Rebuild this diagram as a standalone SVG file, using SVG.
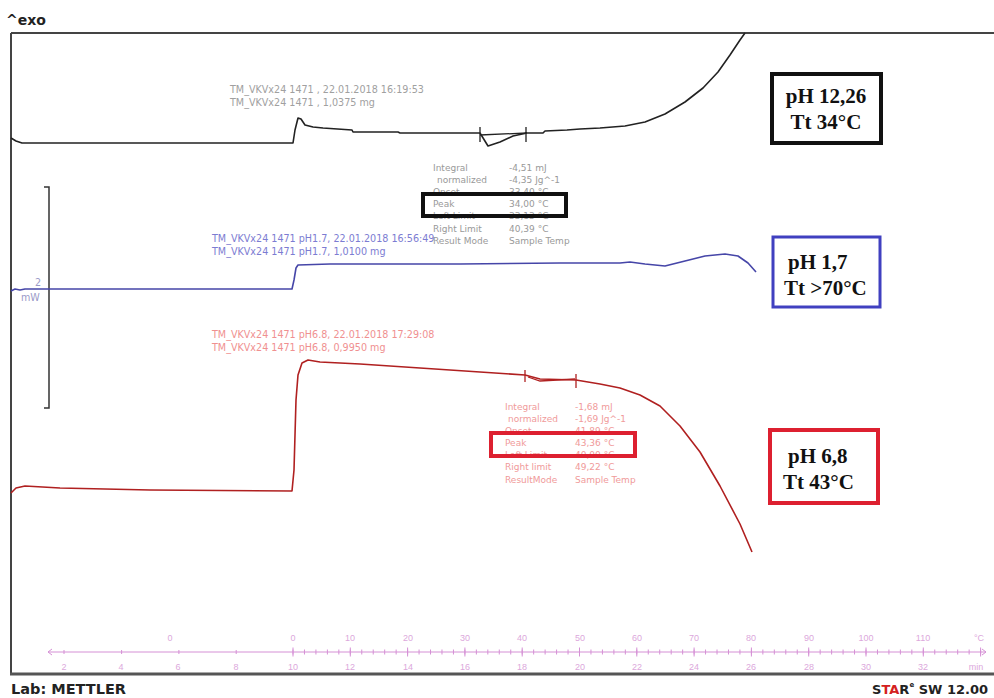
<svg xmlns="http://www.w3.org/2000/svg" width="994" height="698" viewBox="0 0 994 698">
<defs>
<style>
.frame{stroke:#444;fill:none}
.hdr{font-family:"DejaVu Sans",Verdana,sans-serif;font-size:9.6px}
.tbl{font-family:"DejaVu Sans",Verdana,sans-serif;font-size:9px}
.box{font-family:"Liberation Serif","Times New Roman",serif;font-weight:bold;font-size:21px;fill:#111}
.ax{font-family:"Liberation Sans",Arial,sans-serif;font-size:9px;fill:#dca8dc;text-anchor:middle}
.big{font-family:"DejaVu Sans",Verdana,sans-serif;font-weight:bold;fill:#222}
.curve{fill:none;stroke-width:1.6;stroke-linejoin:round}
</style>
</defs>
<rect width="994" height="698" fill="#fff"/>

<g id="frame">
<text class="big" x="6" y="25" font-size="14">^exo</text>
<line class="frame" x1="11" y1="33" x2="994" y2="33" stroke-width="2"/>
<line class="frame" x1="11" y1="33" x2="11" y2="674" stroke-width="2"/>
<line x1="10" y1="674" x2="994" y2="674" stroke="#555" stroke-width="3"/>
<text class="big" x="11" y="694" font-size="14.5">Lab: METTLER</text>
<text class="big" x="988" y="694" font-size="13" text-anchor="end"><tspan fill="#222">S</tspan><tspan fill="#d42020">TA</tspan><tspan fill="#222">R</tspan><tspan font-size="7" dy="-7">e</tspan><tspan dy="7"> SW 12.00</tspan></text>
</g>

<g id="scale">
<path d="M44,187 L49,187 L49,408 L44,408" fill="none" stroke="#333" stroke-width="1.5"/>
<text class="hdr" x="35" y="286" fill="#9a9ac8">2</text>
<text class="hdr" x="21" y="301" fill="#9a9ac8" font-size="8.5">mW</text>
</g>

<g id="curve-black">
<path class="curve" stroke="#222" d="M11,138 L16,141 L22,143 L293,143 L295,130 L298,118 L301,119 L305,125 L313,127 L323,128 L352,130 L353,132 L398,132 L400,133 L480,133 L488,146 L500,142 L513,136 L527,133 L543,133 L545,131 L567,130 L580,129 L600,128 L625,126 L645,122 L665,114 L685,102 L703,88 L718,72 L730,55 L740,40 L745,33"/>
<path d="M480,127 L480,142 M526,127 L526,142 M480,135 L527,133" stroke="#222" stroke-width="1.3" fill="none"/>
<text class="hdr" x="230" y="93" fill="#a0a0a0">TM_VKVx24 1471 , 22.01.2018 16:19:53</text>
<text class="hdr" x="230" y="106" fill="#a0a0a0">TM_VKVx24 1471 , 1,0375 mg</text>
</g>

<g id="table-black" class="tbl" fill="#999">
<text x="433" y="171">Integral</text><text x="509" y="171">-4,51 mJ</text>
<text x="437" y="183">normalized</text><text x="509" y="183">-4,35 Jg^-1</text>
<text x="433" y="195">Onset</text><text x="509" y="195">33,40 °C</text>
<text x="433" y="207">Peak</text><text x="509" y="207">34,00 °C</text>
<text x="433" y="219">Left Limit</text><text x="509" y="219">33,13 °C</text>
<text x="433" y="232">Right Limit</text><text x="509" y="232">40,39 °C</text>
<text x="433" y="244">Result Mode</text><text x="509" y="244">Sample Temp</text>
<rect x="423" y="194" width="143" height="22" fill="none" stroke="#111" stroke-width="4"/>
</g>

<g id="curve-blue">
<path class="curve" stroke="#4646a8" d="M11,291 L15,289 L20,290 L25,289 L292,289 L294,280 L296,268 L298,265 L330,264 L460,264 L560,263 L620,263 L630,262 L645,264 L665,266 L685,261 L705,256 L725,254 L738,256 L748,263 L756,272"/>
<text class="hdr" x="212" y="242" fill="#7c7cd2">TM_VKVx24 1471 pH1.7, 22.01.2018 16:56:49</text>
<text class="hdr" x="212" y="255" fill="#7c7cd2">TM_VKVx24 1471 pH1.7, 1,0100 mg</text>
</g>

<g id="curve-red">
<path class="curve" stroke="#b02020" d="M11,493 L16,488 L25,486 L60,488 L150,490 L292,491 L294,470 L296,400 L298,375 L302,363 L308,360 L320,362 L360,364 L420,368 L480,372 L525,375 L540,379 L576,380 L600,384 L620,388 L640,395 L660,406 L680,426 L700,452 L720,486 L740,524 L752,552"/>
<path d="M525,370 L525,382 M576,374 L576,388 M528,377 L540,381 L575,379" stroke="#b02020" stroke-width="1.3" fill="none"/>
<text class="hdr" x="212" y="338" fill="#f09090">TM_VKVx24 1471 pH6.8, 22.01.2018 17:29:08</text>
<text class="hdr" x="212" y="351" fill="#f09090">TM_VKVx24 1471 pH6.8, 0,9950 mg</text>
</g>

<g id="table-red" class="tbl" fill="#f09a9a">
<text x="505" y="410">Integral</text><text x="575" y="410">-1,68 mJ</text>
<text x="508" y="422">normalized</text><text x="575" y="422">-1,69 Jg^-1</text>
<text x="505" y="434">Onset</text><text x="575" y="434">41,89 °C</text>
<text x="505" y="446">Peak</text><text x="575" y="446">43,36 °C</text>
<text x="505" y="458">Left Limit</text><text x="575" y="458">40,00 °C</text>
<text x="505" y="470">Right limit</text><text x="575" y="470">49,22 °C</text>
<text x="505" y="483">ResultMode</text><text x="575" y="483">Sample Temp</text>
<rect x="491" y="433" width="144" height="23" fill="none" stroke="#dd2030" stroke-width="4"/>
</g>

<g id="label-black">
<rect x="772" y="74" width="109" height="69" fill="#fff" stroke="#111" stroke-width="4"/>
<text class="box" x="826" y="103" text-anchor="middle">pH 12,26</text>
<text class="box" x="826" y="129" text-anchor="middle">Tt 34°C</text>
</g>
<g id="label-blue">
<rect x="773" y="237" width="107" height="70" fill="#fff" stroke="#4040c0" stroke-width="3"/>
<text class="box" x="788" y="269">pH 1,7</text>
<text class="box" x="784" y="295">Tt &gt;70°C</text>
</g>
<g id="label-red">
<rect x="770" y="430" width="108" height="73" fill="#fff" stroke="#dd2030" stroke-width="4"/>
<text class="box" x="788" y="463">pH 6,8</text>
<text class="box" x="783" y="489">Tt 43°C</text>
</g>

<g id="axis">
<line x1="48" y1="652" x2="986" y2="652" stroke="#d590d5" stroke-width="1"/>
<path d="M52,649 L48,652 L52,655 M982,649 L986,652 L982,655" stroke="#d590d5" fill="none"/>
<line x1="292.5" y1="652" x2="985" y2="652" stroke="#d590d5" stroke-width="5" stroke-dasharray="1 10.46"/>
<line x1="292.5" y1="652" x2="985" y2="652" stroke="#d590d5" stroke-width="9" stroke-dasharray="1 56.3"/>
<path d="M64,650 v4 M121.6,650 v4 M178.9,650 v4 M236.2,650 v4" stroke="#d590d5"/>
<g class="ax">
<text x="170" y="641">0</text><text x="293" y="641">0</text><text x="350" y="641">10</text><text x="408" y="641">20</text><text x="465" y="641">30</text><text x="522" y="641">40</text><text x="580" y="641">50</text><text x="637" y="641">60</text><text x="694" y="641">70</text><text x="751" y="641">80</text><text x="809" y="641">90</text><text x="866" y="641">100</text><text x="923" y="641">110</text><text x="979" y="641">°C</text>
<text x="64" y="670">2</text><text x="121" y="670">4</text><text x="178" y="670">6</text><text x="236" y="670">8</text><text x="293" y="670">10</text><text x="350" y="670">12</text><text x="408" y="670">14</text><text x="465" y="670">16</text><text x="522" y="670">18</text><text x="580" y="670">20</text><text x="637" y="670">22</text><text x="694" y="670">24</text><text x="751" y="670">26</text><text x="809" y="670">28</text><text x="866" y="670">30</text><text x="923" y="670">32</text><text x="976" y="670">min</text>
</g>
</g>
</svg>
